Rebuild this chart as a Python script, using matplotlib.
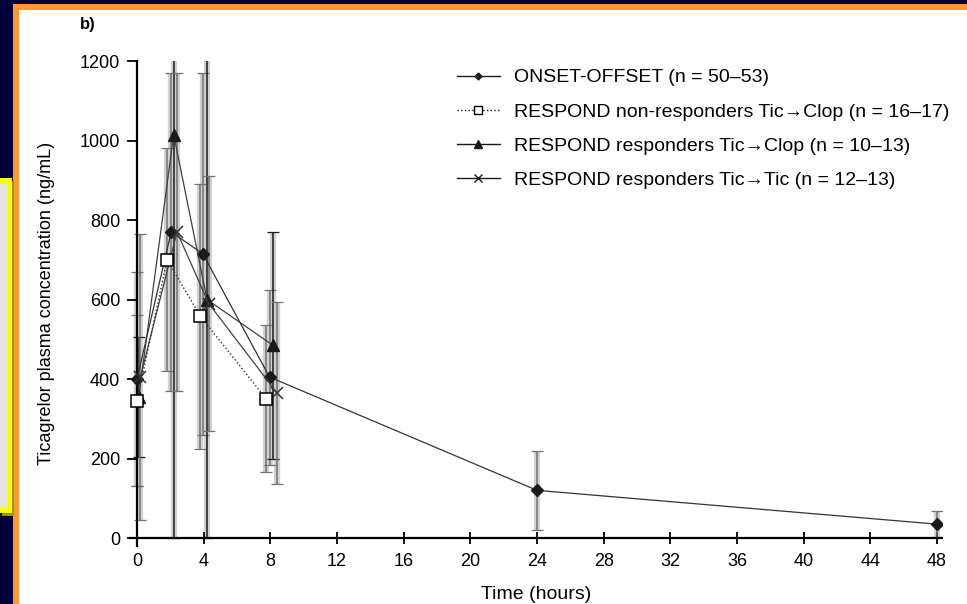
import matplotlib.pyplot as plt
from matplotlib.lines import Line2D
from matplotlib.patches import Rectangle

plt.rcParams['font.family'] = ['Liberation Sans', 'DejaVu Sans']

# zaman (saat) - seriler hafif kaydırılmış çizilmiş
onset_x = [0, 2.05, 3.95, 7.95, 24, 48]
onset_y = [400, 770, 715, 405, 120, 35]
onset_err = [270, 400, 455, 220, 100, 33]

nonresp_x = [0, 1.8, 3.8, 7.75]
nonresp_y = [345, 700, 558, 350]
nonresp_err = [215, 280, 333, 185]

ticclop_x = [0.1, 2.2, 4.2, 8.15]
ticclop_y = [355, 1015, 600, 485]
ticclop_err_lo = [150, 1015, 600, 285]
ticclop_err_hi = [150, 1100, 1100, 285]

tictic_x = [0.2, 2.4, 4.3, 8.4]
tictic_y = [405, 770, 590, 365]
tictic_err = [360, 400, 320, 228]

LABELS = ['ONSET-OFFSET (n = 50–53)',
          'RESPOND non-responders Tic→Clop (n = 16–17)',
          'RESPOND responders Tic→Clop (n = 10–13)',
          'RESPOND responders Tic→Tic (n = 12–13)']

fig = plt.figure(figsize=(9.67, 6.04), dpi=100)
fig.patch.set_facecolor('#00003a')

W, H = 967, 604
def px_rect(x0, y0, x1, y1, color, z):
    fig.patches.append(Rectangle((x0 / W, 1 - y1 / H), (x1 - x0) / W, (y1 - y0) / H,
                                 transform=fig.transFigure, facecolor=color,
                                 edgecolor='none', zorder=z))

px_rect(13, 4, W, H, '#ff9933', -5)
px_rect(19, 10, W, H, 'white', -4)
px_rect(2, 181, 14, 516, '#9a9a00', -5)
px_rect(0, 178, 12, 513, '#ffff00', -4)
px_rect(0, 184, 8, 507, '#e4e4e4', -3)

ax = fig.add_axes([0.1348, 0.0960, 0.8394, 0.8030])
ax.set_facecolor('none')
ax.set_zorder(2)

# hata çubukları
for xs, ys, err, dark in [(onset_x, onset_y, onset_err, '0.45'),
                          (nonresp_x, nonresp_y, nonresp_err, '0.45'),
                          (ticclop_x, ticclop_y, [ticclop_err_lo, ticclop_err_hi], '0.1'),
                          (tictic_x, tictic_y, tictic_err, '0.45')]:
    ax.errorbar(xs, ys, yerr=err, fmt='none', ecolor='0.82', elinewidth=4.5,
                capsize=0, zorder=1)
    ax.errorbar(xs, ys, yerr=err, fmt='none', ecolor=dark, elinewidth=1.1,
                capsize=4, capthick=0.9, zorder=2)

ax.plot(onset_x, onset_y, '-', color='0.2', lw=0.9, marker='D', ms=6,
        mfc='0.1', mec='0.1', zorder=4)
ax.plot(nonresp_x, nonresp_y, ':', color='0.2', lw=1.0, marker='s', ms=9,
        mfc='white', mec='black', mew=1.1, zorder=5)
ax.plot(ticclop_x, ticclop_y, '-', color='0.25', lw=0.9, marker='^', ms=8,
        mfc='0.1', mec='0.1', zorder=4)
ax.plot(tictic_x, tictic_y, '-', color='0.25', lw=0.9, marker='x', ms=8,
        mec='0.2', mew=1.1, zorder=4)

handles = [
    Line2D([], [], color='0.1', lw=1.0, marker='D', ms=3.5),
    Line2D([], [], color='0.1', lw=1.0, ls=':', marker='s', ms=6, mfc='white', mec='black'),
    Line2D([], [], color='0.1', lw=1.0, marker='^', ms=6),
    Line2D([], [], color='0.1', lw=1.0, marker='x', ms=6),
]
ax.legend(handles, LABELS, loc='upper left', bbox_to_anchor=(0.381, 1.02),
          frameon=False, fontsize=14, handlelength=2.2, handletextpad=0.75,
          labelspacing=0.85)

ax.set_xlim(-0.4, 48.3)
ax.set_ylim(-20, 1200)
ax.set_xticks(range(0, 49, 4))
ax.set_yticks(range(0, 1201, 200))
ax.spines['top'].set_visible(False)
ax.spines['right'].set_visible(False)
ax.spines['left'].set_position(('data', 0))
ax.spines['bottom'].set_position(('data', 0))
ax.spines['left'].set_linewidth(1.6)
ax.spines['bottom'].set_linewidth(1.6)
ax.spines['left'].set_bounds(-20, 1200)
ax.tick_params(axis='x', direction='inout', length=8, width=1.3, labelsize=13, pad=7)
ax.tick_params(axis='y', direction='out', length=7, width=1.3, labelsize=13, pad=5)

ax.set_xlabel('Time (hours)', fontsize=14, labelpad=11)
ax.set_ylabel('Ticagrelor plasma concentration (ng/mL)', fontsize=13, labelpad=18)

fig.text(80 / W, 1 - 25 / H, 'b)', fontsize=12, fontweight='bold', va='center')

plt.savefig('out.png', dpi=100, facecolor=fig.get_facecolor())
